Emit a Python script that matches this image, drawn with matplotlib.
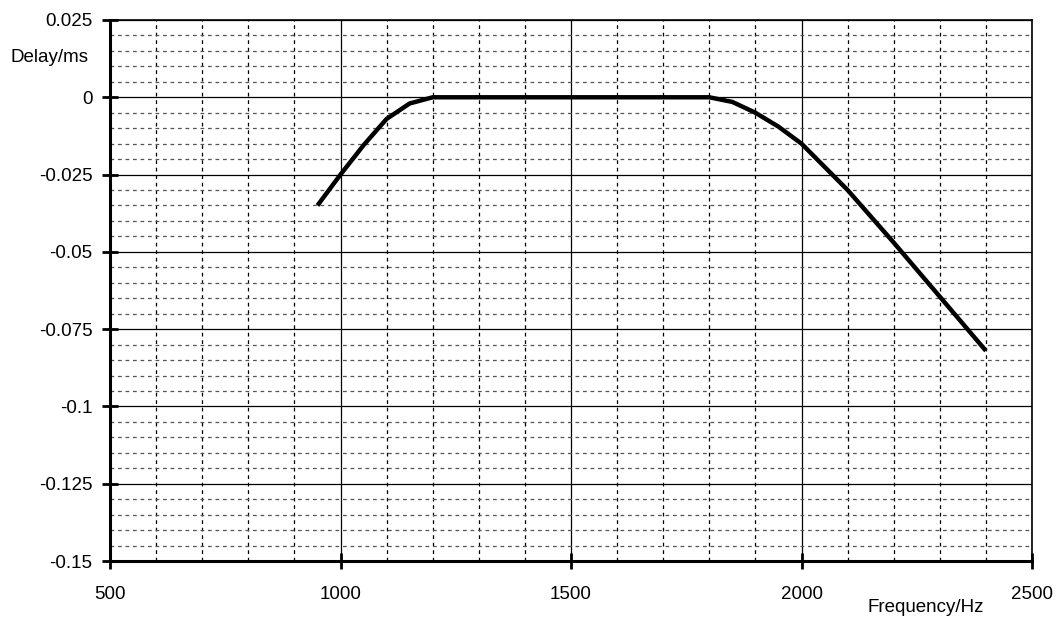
import numpy as np
import matplotlib.pyplot as plt
from matplotlib.ticker import MultipleLocator

plt.rcParams['font.family'] = ['Liberation Sans', 'DejaVu Sans']

# delay curve
freq_hz = [950, 1000, 1050, 1100, 1150, 1200, 1500, 1800, 1850, 1900, 1950, 2000, 2100, 2200, 2300, 2400]
delay_ms = [-0.035, -0.025, -0.0155, -0.007, -0.002, 0.0, 0.0, 0.0, -0.0015, -0.005, -0.0095, -0.015, -0.03, -0.047, -0.0645, -0.082]

xticks = [500, 1000, 1500, 2000, 2500]
yticks = [-0.15, -0.125, -0.1, -0.075, -0.05, -0.025, 0, 0.025]
yticklabels = ['-0.15', '-0.125', '-0.1', '-0.075', '-0.05', '-0.025', '0', '0.025']

fig = plt.figure(figsize=(10.56, 6.17), dpi=100)
ax = fig.add_axes([110/1056, 56/617, 922/1056, 541/617])

ax.plot(freq_hz, delay_ms, color='black', lw=3.2, solid_capstyle='butt', zorder=5)

ax.set_xlim(500, 2500)
ax.set_ylim(-0.15, 0.025)
ax.set_xticks(xticks)
ax.set_xticklabels([str(v) for v in xticks])
ax.set_yticks(yticks)
ax.set_yticklabels(yticklabels)
ax.xaxis.set_minor_locator(MultipleLocator(100))
ax.yaxis.set_minor_locator(MultipleLocator(0.005))

ax.grid(which='major', color='black', lw=0.9, ls='-')
ax.grid(which='minor', axis='x', color='black', lw=0.9, ls=(0, (3, 3)))
ax.grid(which='minor', axis='y', color='#555555', lw=0.9, ls=(0, (3, 3)))
ax.set_axisbelow(True)

for s in ['left', 'bottom']:
    ax.spines[s].set_linewidth(2.2)
for s in ['top', 'right']:
    ax.spines[s].set_linewidth(1.2)

ax.tick_params(which='major', direction='inout', length=11.5, width=2, labelsize=13.5)
ax.tick_params(axis='x', which='major', pad=12)
ax.tick_params(axis='y', which='major', pad=7)
ax.tick_params(which='minor', length=0)

fig.text(88/1056, 1 - 58/617, 'Delay/ms', ha='right', va='center', fontsize=13.5)
fig.text(926/1056, 1 - 608/617, 'Frequency/Hz', ha='center', va='center', fontsize=13.5)

fig.savefig('out.png', dpi=100)
